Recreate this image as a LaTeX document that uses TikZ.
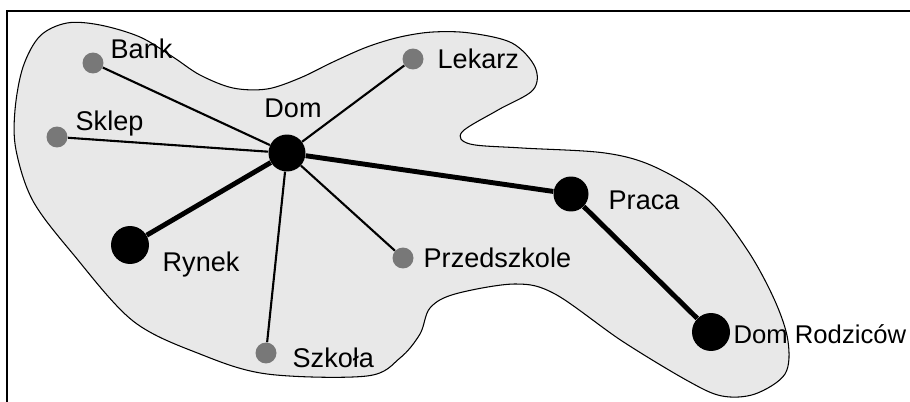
\documentclass[tikz,border=0pt]{standalone}
\usepackage{fontspec}
\setmainfont{Liberation Sans}
\usetikzlibrary{positioning}
\definecolor{plama}{gray}{0.91}
\definecolor{punkt}{gray}{0.47}
\tikzstyle{miejsce}=[circle,fill=punkt,minimum size=0.42cm,inner sep=0]
\tikzstyle{glowne}=[circle,fill=black,minimum size=0.74cm,inner sep=0]
\tikzstyle{opis}=[inner sep=0,font=\fontsize{15.4}{18}\selectfont]
\tikzstyle{droga}=[line width=1.2pt]
\tikzstyle{trasa}=[line width=2.8pt]

\begin{document}
\begin{tikzpicture}[x=0.02cm,y=-0.02cm]
	\useasboundingbox (0,0) rectangle (910,402);
	% ramka
	\draw[line width=1.1pt] (7,402) -- (7,11) -- (910,11);
	% obszar
	\draw[fill=plama,line width=0.6pt] plot[smooth cycle,tension=0.55] coordinates {
		(67,23) (100,25) (140,37) (173,57) (200,75) (233,88) (267,89) (300,78)
		(333,62) (367,47) (400,37) (433,32) (470,33) (512,43) (535,67) (533,90)
		(498,110) (462,132) (470,144) (522,148) (605,153) (655,167) (708,200)
		(748,251) (775,301) (788,341) (785,374) (755,394) (722,396) (688,381)
		(622,341) (555,294) (515,284) (455,294) (430,308) (420,334) (400,358)
		(367,376) (267,374) (200,354) (133,321) (73,254) (33,201) (16,150)
		(15,110) (23,67) (40,36)};

	\node[glowne]	(dom)	at (287,153)	{};
	\node[miejsce]	(bank)	at (93,63)	{};
	\node[miejsce]	(lekarz)	at (413,59)	{};
	\node[miejsce]	(sklep)	at (57,137)	{};
	\node[glowne,minimum size=0.7cm]	(praca)	at (571,194)	{};
	\node[glowne,minimum size=0.76cm]	(rynek)	at (130,245)	{};
	\node[miejsce]	(przedszkole)	at (403,258)	{};
	\node[miejsce]	(szkola)	at (266,353)	{};
	\node[glowne,minimum size=0.76cm]	(rodzice)	at (711,332)	{};

	\node[opis]	(ldom)	[above=0.33cm of dom,xshift=0.12cm]	{Dom};
	\node[opis]	(lbank)	[above right=0.28cm and 0.13cm of bank.east,anchor=west]	{Bank};
	\node[opis]	(llekarz)	[right=0.27cm of lekarz]	{Lekarz};
	\node[opis]	(lsklep)	[above right=0.26cm and 0.15cm of sklep.east,anchor=west]	{Sklep};
	\node[opis]	(lpraca)	[right=0.39cm of praca,yshift=-0.12cm]	{Praca};
	\node[opis]	(lrynek)	[below right=0.4cm and 0.26cm of rynek.east,anchor=west]	{Rynek};
	\node[opis]	(lprzedszkole)	[right=0.19cm of przedszkole]	{Przedszkole};
	\node[opis]	(lszkola)	[right=0.31cm of szkola,yshift=-0.1cm]	{Szkoła};
	\node[opis,font=\fontsize{14.6}{18}\selectfont]	(lrodzice)	[right=0.06cm of rodzice,yshift=-0.05cm]	{Dom Rodziców};

	\draw[droga]	(dom) -- (bank);
	\draw[droga]	(dom) -- (lekarz);
	\draw[droga]	(dom) -- (sklep);
	\draw[droga]	(dom) -- (przedszkole);
	\draw[droga]	(dom) -- (szkola);
	\draw[trasa]	(dom) -- (rynek);
	\draw[trasa]	(dom) -- (praca);
	\draw[trasa]	(praca) -- (rodzice);
\end{tikzpicture}
\end{document}
